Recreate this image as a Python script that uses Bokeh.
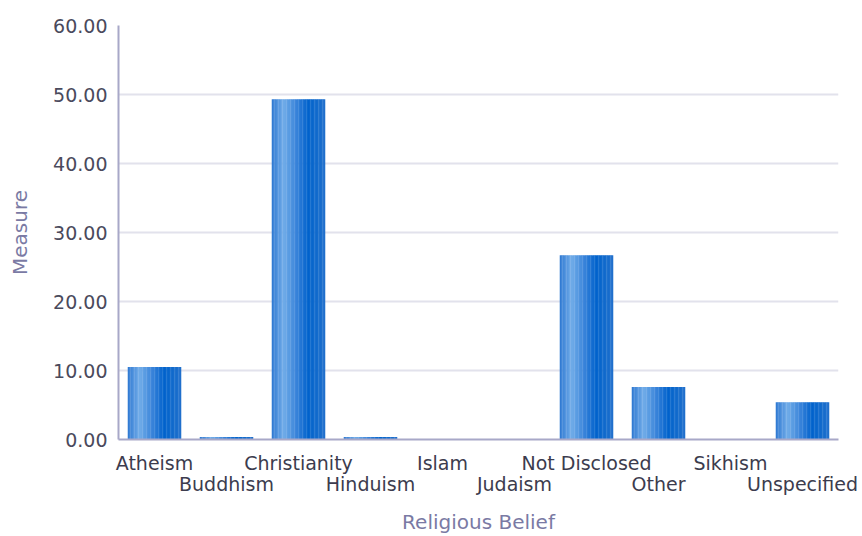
from bokeh.plotting import figure
from bokeh.models import (FactorRange, Range1d, FixedTicker, NumeralTickFormatter,
                          ColumnDataSource, CategoricalAxis, CustomJSTickFormatter)
from bokeh.transform import dodge
from bokeh.embed import file_html
from bokeh.resources import INLINE

categories = ["Atheism", "Buddhism", "Christianity", "Hinduism", "Islam",
              "Judaism", "Not Disclosed", "Other", "Sikhism", "Unspecified"]
values = [10.5, 0.35, 49.3, 0.35, 0.0, 0.0, 26.7, 7.6, 0.0, 5.4]
y_ticks = [0, 10, 20, 30, 40, 50, 60]

p = figure(width=862, height=536, x_range=FactorRange(*categories),
           y_range=Range1d(0, 60), output_backend="svg", toolbar_location=None,
           min_border_left=118, min_border_right=24, min_border_top=25,
           min_border_bottom=96)
p.outline_line_color = None
p.background_fill_color = "white"

# gradient bars: split each bar into thin vertical strips
BAR_W = 0.74
stops = [(0.0, (0x2e, 0x78, 0xd2)), (0.22, (0x70, 0xac, 0xe8)),
         (0.45, (0x3a, 0x84, 0xda)), (0.68, (0x00, 0x62, 0xcc)),
         (1.0, (0x20, 0x70, 0xcc))]

def grad(t):
    for (t0, c0), (t1, c1) in zip(stops[:-1], stops[1:]):
        if t0 <= t <= t1:
            f = (t - t0) / (t1 - t0)
            return "#%02x%02x%02x" % tuple(int(round(a + (b - a) * f)) for a, b in zip(c0, c1))
    return "#%02x%02x%02x" % stops[-1][1]

src = ColumnDataSource(dict(cat=categories, val=values))
N = 40
sw = BAR_W / N
for i in range(N):
    off = -BAR_W / 2 + sw * (i + 0.5)
    col = grad((i + 0.5) / N)
    p.vbar(x=dodge("cat", off, range=p.x_range), top="val", width=sw * 1.2,
           source=src, fill_color=col, line_color=None)

FONT = "DejaVu Sans"
TICK_SIZE = "19px"
LABEL_SIZE = "20px"

# y axis
p.yaxis.ticker = FixedTicker(ticks=y_ticks)
p.yaxis.formatter = NumeralTickFormatter(format="0.00")
p.yaxis.axis_label = "Measure"
p.yaxis.axis_label_text_font = FONT
p.yaxis.axis_label_text_font_style = "normal"
p.yaxis.axis_label_text_font_size = LABEL_SIZE
p.yaxis.axis_label_text_color = "#7a7aa4"
p.yaxis.axis_label_standoff = 18
p.yaxis.major_label_text_font = FONT
p.yaxis.major_label_text_font_size = TICK_SIZE
p.yaxis.major_label_text_color = "#4a4a5c"
p.yaxis.major_label_standoff = 5
p.yaxis.major_tick_line_color = None
p.yaxis.minor_tick_line_color = None
p.yaxis.axis_line_color = "#a8a8c8"
p.yaxis.axis_line_width = 2

def row_formatter(parity):
    return CustomJSTickFormatter(args=dict(cats=categories, parity=parity), code="""
        const i = cats.indexOf(tick);
        return (i % 2 == parity) ? tick : " ";
    """)

# x axis, first row: even categories
xa = p.xaxis[0]
xa.formatter = row_formatter(0)
xa.major_label_text_font = FONT
xa.major_label_text_font_size = TICK_SIZE
xa.major_label_text_color = "#3c3c4e"
xa.major_label_standoff = 6
xa.major_tick_line_color = None
xa.minor_tick_line_color = None
xa.axis_line_color = "#a8a8c8"
xa.axis_line_width = 2

# second row: odd categories, plus the axis title
xb = CategoricalAxis(formatter=row_formatter(1))
xb.major_label_text_font = FONT
xb.major_label_text_font_size = TICK_SIZE
xb.major_label_text_color = "#3c3c4e"
xb.major_label_standoff = -10
xb.major_tick_line_color = None
xb.minor_tick_line_color = None
xb.axis_line_color = None
xb.axis_label = "Religious Belief"
xb.axis_label_text_font = FONT
xb.axis_label_text_font_style = "normal"
xb.axis_label_text_font_size = LABEL_SIZE
xb.axis_label_text_color = "#7a7aa4"
xb.axis_label_standoff = 12
p.add_layout(xb, "below")

p.xgrid.grid_line_color = None
p.ygrid.grid_line_color = "#e2e2ec"
p.ygrid.grid_line_width = 2

open("out.html", "w").write(file_html(p, INLINE))
